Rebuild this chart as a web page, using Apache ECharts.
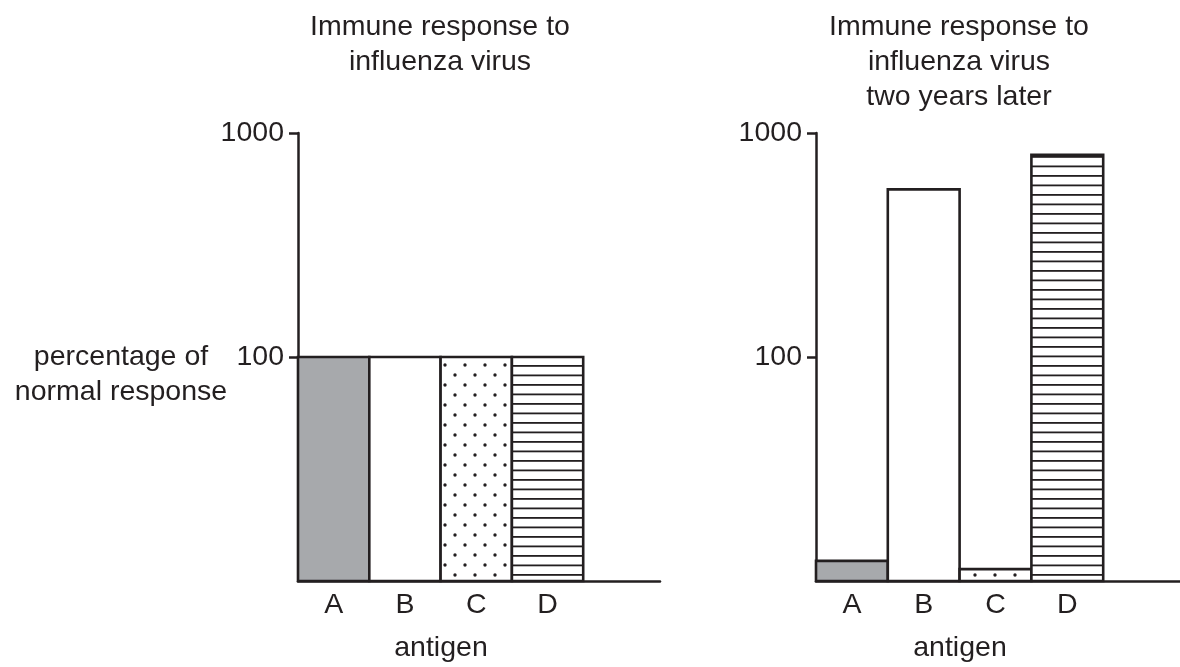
<!DOCTYPE html>
<html>
<head>
<meta charset="utf-8">
<script src="https://cdn.jsdelivr.net/npm/echarts@6/dist/echarts.min.js"></script>
<style>
html,body{margin:0;padding:0;background:#fff;}
#c{width:1180px;height:667px;}
</style>
</head>
<body>
<div id="c"></div>
<script>
// ---- data ----
const antigens = ['A', 'B', 'C', 'D'];
const responseInitial = [100, 100, 100, 100];
const responseTwoYearsLater = [12.3, 560, 11.3, 800];
const yTickValues = [100, 1000];
const titleLeft = 'Immune response to\ninfluenza virus';
const titleRight = 'Immune response to\ninfluenza virus\ntwo years later';
const yAxisName = 'percentage of\nnormal response';
const xAxisName = 'antigen';

// ---- styles ----
const INK = '#231f20';
const FONT = 'Liberation Sans, Arial, Helvetica, sans-serif';

function dotPattern() {
  const c = document.createElement('canvas');
  c.width = 20; c.height = 20;
  const g = c.getContext('2d');
  g.fillStyle = '#fff'; g.fillRect(0, 0, 20, 20);
  g.fillStyle = INK;
  [[5, 5], [15, 15]].forEach(([x, y]) => { g.beginPath(); g.arc(x, y, 1.7, 0, Math.PI * 2); g.fill(); });
  return { image: c, repeat: 'repeat' };
}
function linePattern() {
  const c = document.createElement('canvas');
  c.width = 20; c.height = 19;
  const g = c.getContext('2d');
  g.fillStyle = '#fff'; g.fillRect(0, 0, 20, 19);
  g.fillStyle = INK;
  g.fillRect(0, 4, 20, 1.8);
  g.fillRect(0, 13.5, 20, 1.8);
  return { image: c, repeat: 'repeat' };
}
const fills = ['#a7a9ac', '#ffffff', dotPattern(), linePattern()];

const chart = echarts.init(document.getElementById('c'), null, { renderer: 'canvas' });

function textTitle(text, left, top) {
  return {
    text, left, top, textAlign: 'center', padding: 0,
    textStyle: { fontSize: 28.5, lineHeight: 35, fontWeight: 'normal', color: INK, fontFamily: FONT }
  };
}

function makeX(gridIndex, max) {
  return {
    type: 'value', gridIndex, min: 0, max, interval: 0.5,
    axisLine: { show: true, lineStyle: { color: INK, width: 2.5 } },
    axisTick: { show: false },
    splitLine: { show: false },
    axisLabel: {
      customValues: [0.5, 1.5, 2.5, 3.5],
      formatter: v => antigens[Math.floor(v)] || '',
      fontSize: 28.5, color: INK, fontFamily: FONT, margin: 10
    }
  };
}
function makeY(gridIndex) {
  return {
    type: 'log', gridIndex, min: 10, max: 1000, logBase: 10,
    axisLine: { show: true, lineStyle: { color: INK, width: 2.5 } },
    axisTick: { show: true, customValues: yTickValues, length: 9, lineStyle: { color: INK, width: 2.5 } },
    splitLine: { show: false },
    axisLabel: {
      customValues: yTickValues,
      formatter: v => String(Math.round(v)),
      fontSize: 28.5, color: INK, fontFamily: FONT, margin: 14
    }
  };
}
function makeSeries(idx, values) {
  return {
    type: 'custom', xAxisIndex: idx, yAxisIndex: idx,
    data: values.map((v, i) => [i, v]),
    encode: { x: 0, y: 1 },
    silent: true,
    renderItem: (params, api) => {
      const i = api.value(0), v = api.value(1);
      const p1 = api.coord([i, v]);
      const p0 = api.coord([i + 1, 10]);
      return {
        type: 'rect',
        shape: { x: p1[0], y: p1[1], width: p0[0] - p1[0], height: p0[1] - p1[1] },
        style: { fill: fills[i], stroke: INK, lineWidth: 2.6 }
      };
    }
  };
}

const leftW = 362, rightW = 364;
const option = {
  backgroundColor: '#fff',
  animation: false,
  title: [
    textTitle(titleLeft, 440, 10),
    textTitle(titleRight, 959, 10),
    textTitle(yAxisName, 121, 340),
    textTitle(xAxisName, 441, 631),
    textTitle(xAxisName, 960, 631)
  ],
  grid: [
    { left: 298, top: 133, width: leftW, height: 448 },
    { left: 816, top: 133, width: rightW, height: 448 }
  ],
  xAxis: [makeX(0, leftW / 71.3), makeX(1, rightW / 71.8)],
  yAxis: [makeY(0), makeY(1)],
  series: [makeSeries(0, responseInitial), makeSeries(1, responseTwoYearsLater)]
};
chart.setOption(option);
</script>
</body>
</html>
